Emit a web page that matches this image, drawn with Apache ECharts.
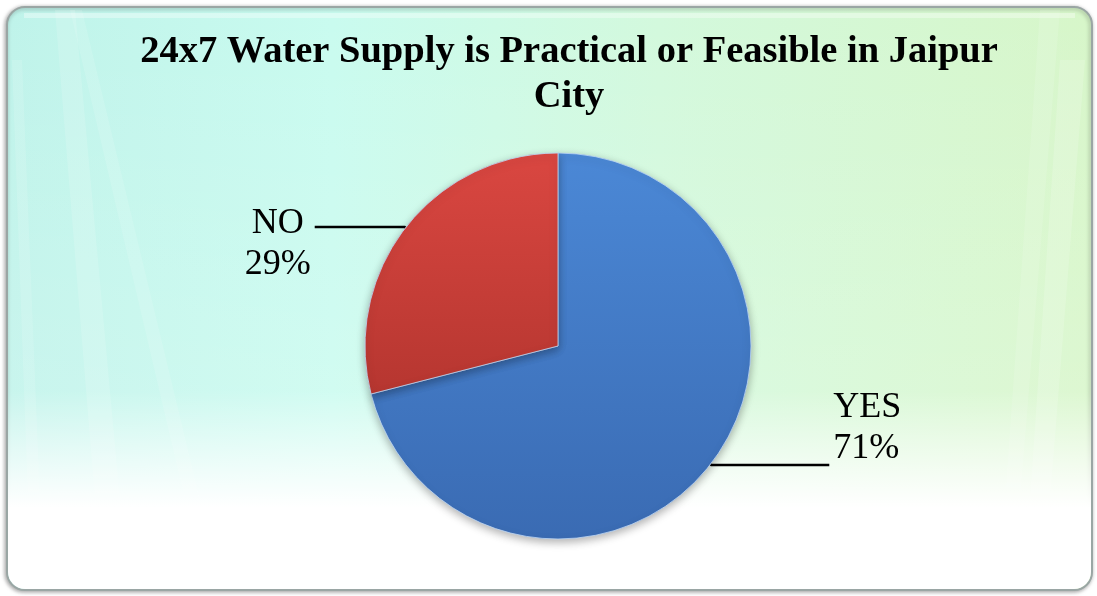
<!DOCTYPE html>
<html>
<head>
<meta charset="utf-8">
<style>
  html, body { margin: 0; padding: 0; background: #ffffff; }
  #chart { width: 1097px; height: 596px; }
</style>
<script src="https://cdn.jsdelivr.net/npm/echarts@6/dist/echarts.min.js"></script>
</head>
<body>
<div id="chart"></div>
<script>
// Survey answers: is 24x7 water supply practical in Jaipur?
const categories = ['YES', 'NO'];
const shares = [71, 29];
const sliceColors = [
  ['#4b88d6', '#3a6bb3'],
  ['#da4741', '#b63630']
];
const titleText = '24x7 Water Supply is Practical or Feasible in Jaipur\nCity';

const chart = echarts.init(document.getElementById('chart'), null, { renderer: 'canvas' });

function sliceFill(pair) {
  return new echarts.graphic.LinearGradient(0, 0, 0, 1, [
    { offset: 0, color: pair[0] },
    { offset: 1, color: pair[1] }
  ]);
}

// Label layout per slice: a spacer line above or below the two text lines
// decides which line the leader meets (NO on the left, 71% on the right).
const labelSetup = {
  YES: { length2: 118, format: '{t|{b}}\n{t|{d}%}\n{gapB| }' },
  NO: { length2: 90, format: '{gapA| }\n{c|{b}}\n{c|{d}%}' }
};

const pieData = categories.map((name, i) => ({
  name: name,
  value: shares[i],
  itemStyle: { color: sliceFill(sliceColors[i]) },
  labelLine: { length: 1, length2: labelSetup[name].length2 },
  label: { formatter: labelSetup[name].format }
}));

// Soft light streaks across the card background
function streak(points, opacity) {
  return {
    type: 'polygon',
    silent: true,
    shape: { points: points },
    style: { fill: 'rgba(255,255,255,' + opacity + ')' }
  };
}

const labelFont = { fontFamily: 'Liberation Serif', fontSize: 36, lineHeight: 41, color: '#000000' };

chart.setOption({
  animation: false,
  graphic: [
    {
      type: 'rect',
      silent: true,
      z: -10,
      shape: { x: 7, y: 7, width: 1085, height: 583, r: 18 },
      style: {
        fill: new echarts.graphic.LinearGradient(0, 0, 1, 0, [
          { offset: 0, color: '#bff3ea' },
          { offset: 0.3, color: '#c9fbef' },
          { offset: 0.6, color: '#d3f9dd' },
          { offset: 1, color: '#d7f6c9' }
        ]),
        stroke: '#9aa6a4',
        lineWidth: 2,
        shadowBlur: 4,
        shadowColor: 'rgba(0,0,0,0.35)',
        shadowOffsetX: -1,
        shadowOffsetY: 1
      }
    },
    {
      type: 'rect',
      silent: true,
      z: -9,
      shape: { x: 8, y: 8, width: 1083, height: 581, r: 17 },
      style: {
        fill: new echarts.graphic.LinearGradient(0, 0, 0, 1, [
          { offset: 0, color: 'rgba(255,255,255,0)' },
          { offset: 0.66, color: 'rgba(255,255,255,0.15)' },
          { offset: 0.86, color: 'rgba(255,255,255,1)' },
          { offset: 1, color: 'rgba(255,255,255,1)' }
        ])
      }
    },
    {
      type: 'group',
      silent: true,
      z: -8,
      children: [
        streak([[55, 10], [75, 10], [120, 500], [95, 500]], 0.14),
        streak([[70, 10], [82, 10], [200, 500], [185, 500]], 0.12),
        streak([[12, 60], [22, 60], [40, 500], [28, 500]], 0.12),
        streak([[1040, 10], [1060, 10], [1020, 500], [1005, 500]], 0.12),
        streak([[1060, 60], [1085, 60], [1050, 500], [1030, 500]], 0.16),
        streak([[24, 13], [1075, 13], [1075, 18], [24, 18]], 0.35)
      ]
    }
  ],
  title: {
    text: titleText,
    left: 564,
    top: 25,
    textAlign: 'center',
    textStyle: {
      fontFamily: 'Liberation Serif',
      fontWeight: 'bold',
      fontSize: 38.5,
      lineHeight: 45,
      color: '#000000'
    }
  },
  series: [{
    type: 'pie',
    center: [558, 346],
    radius: 193,
    startAngle: 90,
    clockwise: true,
    data: pieData,
    itemStyle: {
      borderColor: 'rgba(190,215,245,0.8)',
      borderWidth: 1,
      shadowBlur: 8,
      shadowColor: 'rgba(0,0,0,0.3)',
      shadowOffsetY: 3
    },
    label: {
      show: true,
      position: 'outside',
      distanceToLabelLine: 4,
      rich: {
        t: Object.assign({ align: 'left' }, labelFont),
        c: Object.assign({ align: 'center' }, labelFont),
        gapA: { fontSize: 10, lineHeight: 34 },
        gapB: { fontSize: 10, lineHeight: 74 }
      }
    },
    labelLine: {
      show: true,
      lineStyle: { color: '#000000', width: 2.5 }
    },
    emphasis: { disabled: true }
  }]
});
</script>
</body>
</html>
